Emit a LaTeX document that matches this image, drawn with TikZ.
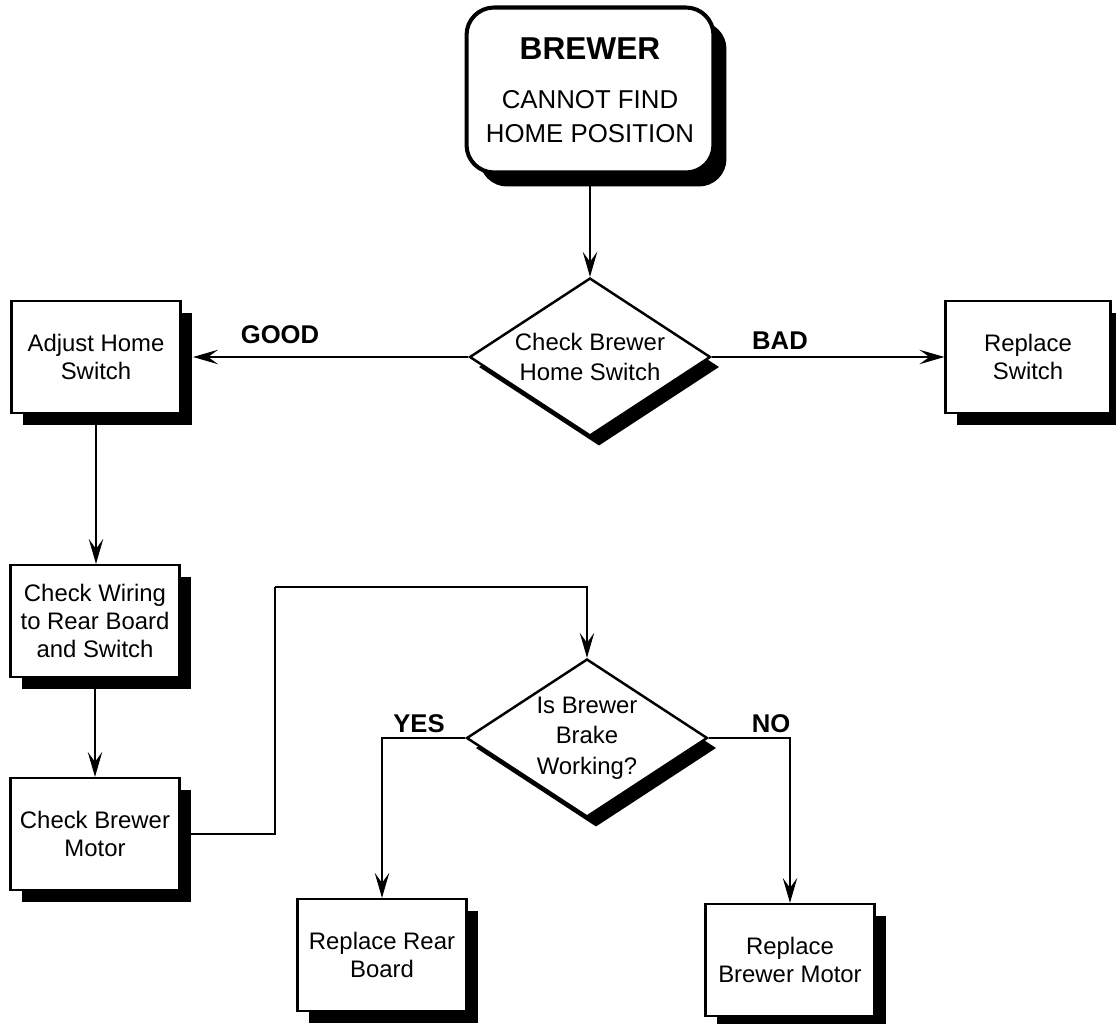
\documentclass[tikz,border=0pt]{standalone}
\usepackage{fontspec}
\setmainfont{Liberation Sans}
\usetikzlibrary{arrows.meta,positioning,shapes.geometric,shadows}
\tikzset{
  boxshadow/.style={drop shadow={shadow xshift=0.23cm, shadow yshift=-0.24cm, fill=black, opacity=1}},
  box/.style={draw, line width=1.3pt, fill=white, align=center, minimum width=3.38cm, minimum height=2.24cm,
              inner sep=2pt, font=\fontsize{13.6}{16}\selectfont, boxshadow},
  startbox/.style={draw, rounded corners=0.55cm, line width=2.3pt, fill=white, align=center,
              minimum width=4.94cm, minimum height=3.3cm, font=\fontsize{14.7}{19}\selectfont,
              drop shadow={shadow xshift=0.26cm, shadow yshift=-0.28cm, fill=black, opacity=1}},
  decision/.style={diamond, draw, line width=1.4pt, fill=white, aspect=1.525, minimum width=4.82cm,
              minimum height=3.16cm, inner sep=0pt, align=center, font=\fontsize{13.6}{17.5}\selectfont,
              drop shadow={shadow xshift=0.18cm, shadow yshift=-0.2cm, fill=black, opacity=1}},
  arr/.style={-{Stealth[length=0.5cm, width=0.29cm, inset=0.2cm]}, line width=0.6pt},
  link/.style={line width=0.6pt},
  lab/.style={font=\fontsize{14.6}{16}\selectfont\bfseries},
}
\begin{document}
\begin{tikzpicture}[x=0.02cm, y=-0.02cm]
        \useasboundingbox (0,0) rectangle (1116,1024);
        \node[startbox] (top) at (590,90) {{\fontsize{18}{20}\selectfont\bfseries BREWER}\\[9pt]CANNOT FIND\\HOME POSITION};
        \node[decision] (chk) at (590,357) {Check Brewer\\Home Switch};
        \node[box] (adj) at (96,357) {Adjust Home\\Switch};
        \node[box, minimum width=3.3cm] (rep) at (1028,357) {Replace\\Switch};
        \node[box] (wir) at (95,621) {Check Wiring\\to Rear Board\\and Switch};
        \node[box] (mot) at (95,834) {Check Brewer\\Motor};
        \node[decision] (brk) at (587,738) {Is Brewer\\Brake\\Working?};
        \node[box] (rrb) at (382,955) {Replace Rear\\Board};
        \node[box] (rbm) at (790,960) {Replace\\Brewer Motor};
        \node[lab] (good) at (280,335) {GOOD};
        \node[lab] (bad) at (780,341) {BAD};
        \node[lab] (yes) at (419,724) {YES};
        \node[lab] (no) at (771,724) {NO};
        \coordinate (bend) at (275,587);
        \draw[arr] (top.south) -- (chk.north);
        \draw[arr] (chk.west) -- ([xshift=0.23cm]adj.east);
        \draw[arr] (chk.east) -- (rep.west);
        \draw[arr] (adj.south) -- (adj.south |- wir.north);
        \draw[arr] (wir.south) -- (mot.north);
        \draw[link] (mot.east) -| (bend); \draw[arr] (bend) -| (brk.north);
        \draw[arr] (brk.west) -| (rrb.north);
        \draw[arr] (brk.east) -| (rbm.north);
      \end{tikzpicture}
\end{document}
